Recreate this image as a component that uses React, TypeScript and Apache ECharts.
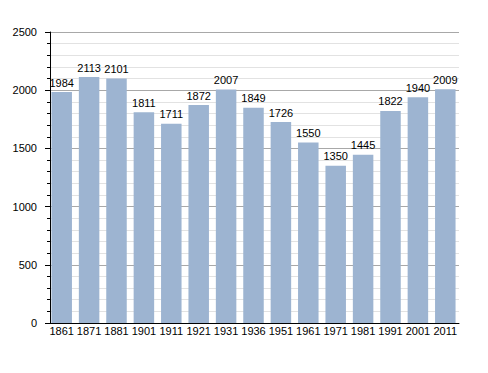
import React, { useEffect, useRef } from "react";
import * as echarts from "echarts";

const categories = ["1861", "1871", "1881", "1901", "1911", "1921", "1931", "1936", "1951", "1961", "1971", "1981", "1991", "2001", "2011"];
const population = [1984, 2113, 2101, 1811, 1711, 1872, 2007, 1849, 1726, 1550, 1350, 1445, 1822, 1940, 2009];

export default function App() {
  const ref = useRef<HTMLDivElement>(null);
  useEffect(() => {
    document.body.style.margin = "0";
    if (!ref.current) return;
    const chart = echarts.init(ref.current, null, { renderer: "svg" });
    const font = "'Liberation Sans', Arial, sans-serif";
    chart.setOption({
      animation: false,
      grid: { left: 48, right: 29, top: 32, bottom: 50 },
      xAxis: {
        type: "category",
        data: categories,
        axisLine: { lineStyle: { color: "#000", width: 1 } },
        axisTick: { show: false },
        axisLabel: { color: "#000", fontSize: 11, fontFamily: font, margin: 2, interval: 0 },
      },
      yAxis: {
        type: "value",
        min: 0,
        max: 2500,
        interval: 500,
        offset: -2,
        axisLine: { show: true, lineStyle: { color: "#000", width: 1 } },
        axisTick: { show: true, length: 5, lineStyle: { color: "#000" } },
        minorTick: { show: true, splitNumber: 5, length: 3, lineStyle: { color: "#000" } },
        splitLine: { show: true, lineStyle: { color: "#a8a8a8", width: 1 } },
        minorSplitLine: { show: true, lineStyle: { color: "#e2e2e2", width: 1 } },
        axisLabel: { color: "#000", fontSize: 11, fontFamily: font, margin: 13, formatter: (v: number) => String(v) },
      },
      series: [
        {
          type: "bar",
          data: population,
          barWidth: 20.5,
          itemStyle: { color: "#9db4d1" },
          label: { show: true, position: "top", distance: 4, color: "#000", fontSize: 11, fontFamily: font },
        },
      ],
    });
    return () => chart.dispose();
  }, []);
  return <div ref={ref} style={{ width: 488, height: 373 }} />;
}
